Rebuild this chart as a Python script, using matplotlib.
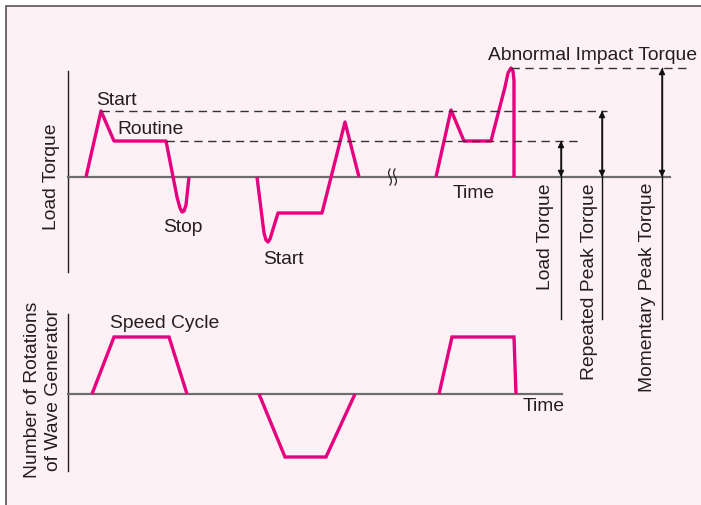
import numpy as np
import matplotlib.pyplot as plt
from matplotlib.patches import Rectangle

plt.rcParams['font.family'] = ['Liberation Sans', 'DejaVu Sans']

# load torque waveform (time, torque above the zero line), three bursts
load1_t = [86, 101, 114, 166, 177, 180, 182, 184, 186, 189]
load1_v = [0, 66, 36, 36, -20, -31, -35, -34, -28, 0]
load2_t = [257, 264, 266, 268, 270, 278, 322, 345, 359]
load2_v = [0, -56, -63, -65, -62, -36, -36, 55, 0]
load3_t = [436, 451, 464, 491, 505, 508, 511, 513, 514, 514]
load3_v = [0, 67, 36, 36, 90, 104, 109, 106, 96, 0]

# speed of wave generator
speed1_t = [92, 114, 169, 187]
speed1_v = [0, 57, 57, 0]
speed2_t = [259, 285, 326, 355]
speed2_v = [0, -63, -63, 0]
speed3_t = [439, 452, 514, 516]
speed3_v = [0, 57, 57, 0]

# reference torque levels
levels = {'Load Torque': 36, 'Repeated Peak Torque': 66, 'Momentary Peak Torque': 109}

base1 = 178
base2 = 395
pink = '#e6007e'
txt = '#231f20'
fs = 13.9

fig = plt.figure(figsize=(7.01, 5.06), dpi=100)
ax = fig.add_axes([0, 0, 1, 1])
ax.set_xlim(0, 701)
ax.set_ylim(506, 0)
ax.axis('off')

ax.add_patch(Rectangle((6, 7), 720, 520, facecolor='#fdf1f5', edgecolor='#555555', lw=1.2))

# axes of upper panel
ax.plot([68, 68], [72, 273], color='#222222', lw=1.0)
ax.plot([68, 670], [base1, base1], color='#6d6d6d', lw=1.6)
# axes of lower panel
ax.plot([68, 68], [315, 472], color='#222222', lw=1.0)
ax.plot([68, 562], [base2, base2], color='#6d6d6d', lw=1.6)

# break mark
yy = np.linspace(base1 - 8, base1 + 8, 40)
for x0 in (390, 395):
    ax.plot(x0 + 1.4 * np.sin((yy - base1) / 8 * np.pi), yy, color='#222222', lw=0.9)

for t, v in [(load1_t, load1_v), (load2_t, load2_v), (load3_t, load3_v)]:
    ax.plot(t, [base1 - a for a in v], color=pink, lw=2.4, solid_joinstyle='round',
            solid_capstyle='butt')
for t, v in [(speed1_t, speed1_v), (speed2_t, speed2_v), (speed3_t, speed3_v)]:
    ax.plot(t, [base2 - a for a in v], color=pink, lw=2.4, solid_joinstyle='miter',
            solid_capstyle='butt')

# dashed reference lines
dash = dict(color='#333333', lw=1.0, ls=(0, (6, 4)))
ax.plot([101, 607], [base1 - levels['Repeated Peak Torque']] * 2, **dash)
ax.plot([166, 580], [base1 - levels['Load Torque']] * 2, **dash)
ax.plot([511, 690], [base1 - levels['Momentary Peak Torque']] * 2, **dash)

# arrows and rotated labels
arrow_x = [561, 602, 662]
label_x = [545, 589, 648]
for (name, val), xa, xl in zip(levels.items(), arrow_x, label_x):
    ax.plot([xa, xa], [base1 - val, 320], color='#111111', lw=1.0)
    ax.annotate('', xy=(xa, base1 - val), xytext=(xa, base1),
                arrowprops=dict(arrowstyle='<|-|>', color='#111111', lw=1.0,
                                mutation_scale=9, shrinkA=0, shrinkB=0))
    ax.text(xl, 183, name, rotation=90, ha='center', va='top', fontsize=fs, color=txt)

ax.text(593, 55, 'Abnormal Impact Torque', ha='center', va='center', fontsize=fs, color=txt)
ax.text(96, 100, 'Start', ha='left', va='center', fontsize=fs, color=txt)
ax.text(117, 129, 'Routine', ha='left', va='center', fontsize=fs, color=txt)
ax.text(163, 227, 'Stop', ha='left', va='center', fontsize=fs, color=txt)
ax.text(263, 260, 'Start', ha='left', va='center', fontsize=fs, color=txt)
ax.text(453, 193, 'Time', ha='left', va='center', fontsize=fs, color=txt)
ax.text(110, 323, 'Speed Cycle', ha='left', va='center', fontsize=fs, color=txt)
ax.text(523, 407, 'Time', ha='left', va='center', fontsize=fs, color=txt)
ax.text(52, 177, 'Load Torque', rotation=90, ha='center', va='center', fontsize=fs, color=txt)
ax.text(43, 390, 'Number of Rotations\nof Wave Generator', rotation=90, ha='center',
        va='center', fontsize=fs, color=txt, linespacing=1.3)

fig.savefig('out.png', dpi=100)
